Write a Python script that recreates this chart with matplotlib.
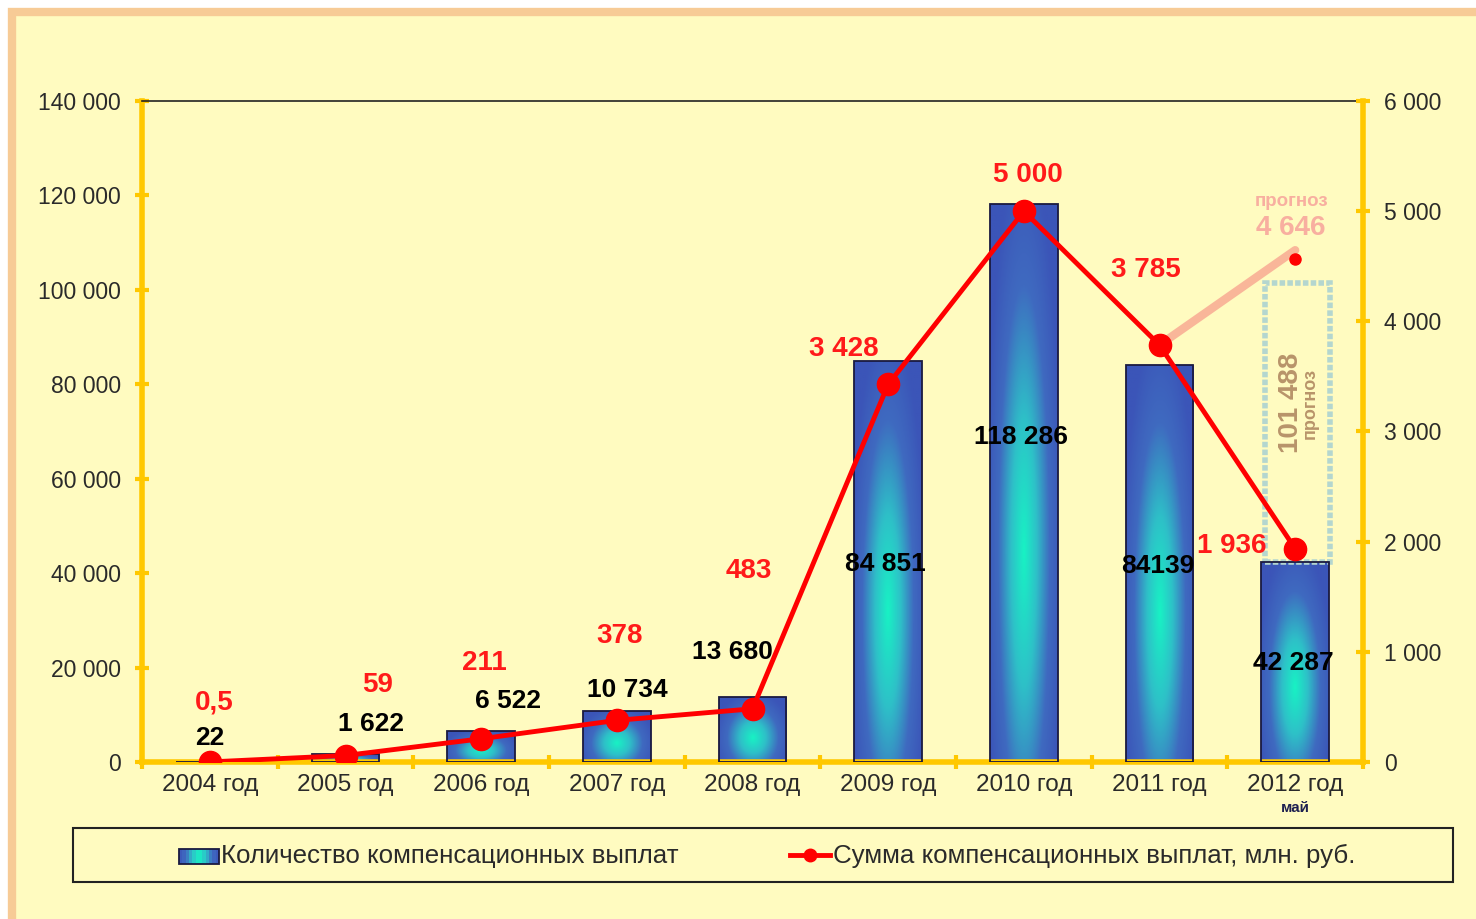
import numpy as np
import matplotlib.pyplot as plt
from matplotlib.patches import Rectangle
from matplotlib.lines import Line2D
from matplotlib.colors import LinearSegmentedColormap
from matplotlib.legend_handler import HandlerBase

plt.rcParams['font.family'] = ['Liberation Sans', 'DejaVu Sans']

# данные
years = ["2004 год", "2005 год", "2006 год", "2007 год", "2008 год",
         "2009 год", "2010 год", "2011 год", "2012 год"]
count = [22, 1622, 6522, 10734, 13680, 84851, 118286, 84139, 42287]
count_lbl = ["22", "1 622", "6 522", "10 734", "13 680", "84 851", "118 286", "84139", "42 287"]
summa = [0.5, 59, 211, 378, 483, 3428, 5000, 3785, 1936]
summa_lbl = ["0,5", "59", "211", "378", "483", "3 428", "5 000", "3 785", "1 936"]
forecast_count = 101488
forecast_sum = 4646

BG = '#FFFBC0'
YEL = '#FFC800'
cmap = LinearSegmentedColormap.from_list('g', ['#18F2C4', '#2EC0C8', '#3F6AC0', '#3B55B8'])

fig = plt.figure(figsize=(14.76, 9.19), dpi=100, facecolor='white')
W, H = 1476, 919
fig.patches.append(Rectangle((12 / W, -0.05), 1.1, 1 - 12 / H + 0.05, transform=fig.transFigure,
                             facecolor=BG, edgecolor='#F7CB96', linewidth=6, zorder=-10))

ax = fig.add_axes([142 / W, 1 - 762 / H, (1363 - 142) / W, (762 - 101) / H])
ax.set_facecolor('none')
x = np.arange(len(years))

# столбцы с градиентом
bw = 0.5
for xi, v in zip(x, count):
    r = Rectangle((xi - bw / 2, 0), bw, v, facecolor='none', edgecolor='#1A1A40', linewidth=1.3, zorder=3)
    ax.add_patch(r)
    gx = np.linspace(-1, 1, 60)
    gy = np.linspace(-1, 1, 200)
    X, Y = np.meshgrid(gx, gy)
    d = np.clip(np.sqrt(X ** 2 + ((Y + 0.25) * 0.8) ** 2) / 1.15, 0, 1)
    im = ax.imshow(d, extent=[xi - bw / 2, xi + bw / 2, 0, v], aspect='auto', cmap=cmap,
                   vmin=0, vmax=1, zorder=2, interpolation='bilinear', origin='lower')
    im.set_clip_path(r)

# прогнозный столбец
ax.add_patch(Rectangle((x[-1] - 0.225, count[-1]), 0.48, forecast_count - count[-1], facecolor='none',
                       edgecolor='#B4D6CF', linewidth=4, linestyle=(0, (1, 0.4)), zorder=2.5))
ax.text(x[-1] - 0.03, 76000, "101 488", rotation=90, ha='center', va='center', fontsize=20,
        fontweight='bold', color='#B8946A', zorder=4)
ax.text(x[-1] + 0.11, 76000, "прогноз", rotation=90, ha='center', va='center', fontsize=13,
        fontweight='bold', color='#B8946A', zorder=4)

ax.set_xlim(-0.5, len(years) - 0.5)
ax.set_ylim(0, 140000)
ax.set_yticks(np.arange(0, 140001, 20000))
ax.set_yticklabels([f"{v:,}".replace(",", " ") for v in range(0, 140001, 20000)])
ax.set_xticks(np.arange(-0.5, len(years), 1))
ax.set_xticklabels([])
ax.set_xticks(x, minor=True)
ax.set_xticklabels(years, minor=True)
ax.tick_params(axis='x', which='major', color=YEL, width=3, length=10, direction='inout')
ax.tick_params(axis='x', which='minor', length=0, pad=9, labelsize=17.5, labelcolor='#2A2A2A')
ax.tick_params(axis='y', color=YEL, width=3, length=10, direction='inout', pad=10,
               labelsize=16.5, labelcolor='#2A2A2A')
for s in ['left', 'right', 'bottom']:
    ax.spines[s].set_color(YEL)
    ax.spines[s].set_linewidth(4)
ax.spines['top'].set_color('#222222')
ax.spines['top'].set_linewidth(1.2)
ax.text(x[-1], -9700, "май", ha='center', va='center', fontsize=11, fontweight='bold', color='#1E2050')

# подписи столбцов
count_pos = [(0, 5000), (0.19, 8000), (0.2, 12900), (0.08, 15200), (-0.15, 23200),
             (-0.02, 42000), (-0.02, 68800), (-0.01, 41500), (-0.01, 21000)]
for xi, (dx, yy), t in zip(x, count_pos, count_lbl):
    ax.text(xi + dx, yy, t, ha='center', va='center', fontsize=19, fontweight='bold',
            color='black', zorder=5)

# линия
ax2 = ax.twinx()
ax2.set_ylim(0, 6000)
ax2.set_yticks(np.arange(0, 6001, 1000))
ax2.set_yticklabels([f"{v:,}".replace(",", " ") for v in range(0, 6001, 1000)])
ax2.tick_params(axis='y', color=YEL, width=3, length=10, direction='inout', pad=10,
                labelsize=16.5, labelcolor='#2A2A2A')
for s in ax2.spines.values():
    s.set_visible(False)

ax2.plot([x[-2], x[-1]], [summa[-2], forecast_sum], color='#F8A590', lw=6, alpha=0.8,
         solid_capstyle='round', zorder=2)
ax2.plot([x[-1]], [forecast_sum - 80], 'o', color='red', markersize=8, zorder=3)
ax2.plot(x, summa, color='red', lw=3.5, marker='o', markersize=16, zorder=4)
ax2.text(x[-1] - 0.03, 5090, "прогноз", ha='center', va='center', fontsize=13.5, fontweight='bold', color='#F8AFA0')
ax2.text(x[-1] - 0.03, 4850, "4 646", ha='center', va='center', fontsize=20, fontweight='bold', color='#F8AFA0')

summa_pos = [(0.03, 540), (0.24, 700), (0.02, 900), (0.02, 1140), (-0.03, 1730),
             (-0.33, 3750), (0.03, 5330), (-0.1, 4470), (-0.47, 1960)]
for xi, (dx, yy), t in zip(x, summa_pos, summa_lbl):
    ax2.text(xi + dx, yy, t, ha='center', va='center', fontsize=20, fontweight='bold',
             color='#FF1A1A', zorder=6)


# легенда
class GradHandler(HandlerBase):
    def create_artists(self, legend, orig, xd, yd, width, height, fontsize, trans):
        arts = []
        n = 12
        for i in range(n):
            t = abs((i + 0.5) / n * 2 - 1)
            arts.append(Rectangle((xd + width * i / n, yd), width / n + 0.3, height,
                                  facecolor=cmap(t), edgecolor='none', transform=trans))
        arts.append(Rectangle((xd, yd), width, height, facecolor='none',
                              edgecolor='#1A1A40', linewidth=1.3, transform=trans))
        return arts


fig.patches.append(Rectangle((73 / W, 1 - 882 / H), (1453 - 73) / W, 54 / H, transform=fig.transFigure,
                             facecolor='none', edgecolor='#222222', linewidth=1.5))
h1 = Rectangle((0, 0), 1, 1)
h2 = Line2D([], [], color='red', lw=3.5, marker='o', markersize=9)
fig.legend([h1, h2], ["Количество компенсационных выплат", "Сумма компенсационных выплат, млн. руб."],
           loc='center', bbox_to_anchor=(767 / W, 1 - 856 / H), ncol=2, frameon=False,
           fontsize=18.6, handlelength=1.55, handleheight=0.55, handletextpad=0.1, columnspacing=4.3,
           labelcolor='#2A2A2A', handler_map={Rectangle: GradHandler()})

fig.savefig('out.png', dpi=100, facecolor=fig.get_facecolor())
